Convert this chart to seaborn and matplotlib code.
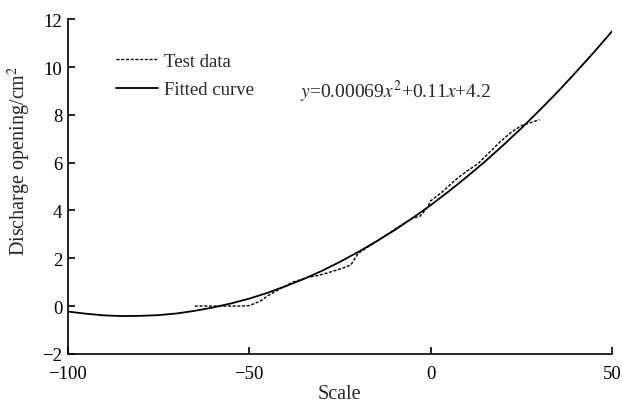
import matplotlib
matplotlib.use("Agg")
import matplotlib.pyplot as plt
import seaborn as sns
import pandas as pd

# Test data
test_x = [-65, -58, -52, -50, -47, -45, -42, -38, -34, -31, -27, -24, -22, -20,
          -15, -10, -7, -5, -3, -1, 0, 3, 7, 10, 13, 16, 19, 22, 25, 28, 30]
test_y = [0.0, 0.0, 0.0, 0.02, 0.2, 0.42, 0.68, 1.0, 1.2, 1.28, 1.45, 1.6, 1.72, 2.2,
          2.7, 3.2, 3.5, 3.68, 3.75, 4.1, 4.4, 4.75, 5.3, 5.65, 5.95, 6.4, 6.85, 7.25, 7.55, 7.7, 7.8]

# Fitted curve
fit_x = [-100, -95, -90, -85, -80, -75, -70, -65, -60, -55, -50, -45, -40, -35, -30, -25,
         -20, -15, -10, -5, 0, 5, 10, 15, 20, 25, 30, 35, 40, 45, 50]
fit_y = [-0.23, -0.32, -0.39, -0.42, -0.41, -0.38, -0.31, -0.20, -0.06, 0.11, 0.31, 0.55,
         0.83, 1.13, 1.47, 1.85, 2.26, 2.70, 3.17, 3.68, 4.22, 4.80, 5.41, 6.05, 6.73, 7.44,
         8.19, 8.96, 9.78, 10.62, 11.50]

x_ticks = [-100, -50, 0, 50]
y_ticks = [-2, 0, 2, 4, 6, 8, 10, 12]
labels = ["Test data", "Fitted curve"]
equation = r"$y$=0.00069$x^2$+0.11$x$+4.2"

sns.set_style("ticks")
plt.rcParams["font.family"] = ["Liberation Serif", "DejaVu Serif"]
plt.rcParams["mathtext.fontset"] = "stix"

fig = plt.figure(figsize=(6.22, 4.06), dpi=100)
ax = fig.add_axes([0.109, 0.126, 0.875, 0.824])

df_test = pd.DataFrame({"x": test_x, "y": test_y})
df_fit = pd.DataFrame({"x": fit_x, "y": fit_y})
sns.lineplot(data=df_test, x="x", y="y", ax=ax, color="black", lw=1.0,
             linestyle=(0, (2.2, 1.2)), label=labels[0], sort=False)
sns.lineplot(data=df_fit, x="x", y="y", ax=ax, color="black", lw=1.3,
             label=labels[1], sort=False)

ax.set_xlim(-100, 50)
ax.set_ylim(-2, 12)
ax.set_xticks(x_ticks)
ax.set_yticks(y_ticks)
ax.set_xticklabels(["\u2212100", "\u221250", "0", "50"])
ax.set_yticklabels(["\u22122", "0", "2", "4", "6", "8", "10", "12"])
ax.tick_params(direction="in", length=5, width=1.2, labelsize=13.5, colors="black")
ax.tick_params(axis="x", pad=8)
ax.tick_params(axis="y", pad=4)
for s in ["left", "bottom"]:
    ax.spines[s].set_linewidth(1.2)
    ax.spines[s].set_color("black")
sns.despine(ax=ax)

ax.set_xlabel("Scale", fontsize=14.5)
ax.xaxis.set_label_coords(0.5, -0.09)
ax.set_ylabel("Discharge opening/cm$^2$", fontsize=14.5)
ax.yaxis.set_label_coords(-0.064, 0.58)

leg = ax.legend(loc="upper left", bbox_to_anchor=(0.058, 0.95), frameon=False,
                fontsize=13.5, handlelength=2.25, handletextpad=0.3, labelspacing=0.6)

ax.text(-36, 9.0, equation, fontsize=14, ha="left", va="center")

fig.savefig("out.png", dpi=100)
